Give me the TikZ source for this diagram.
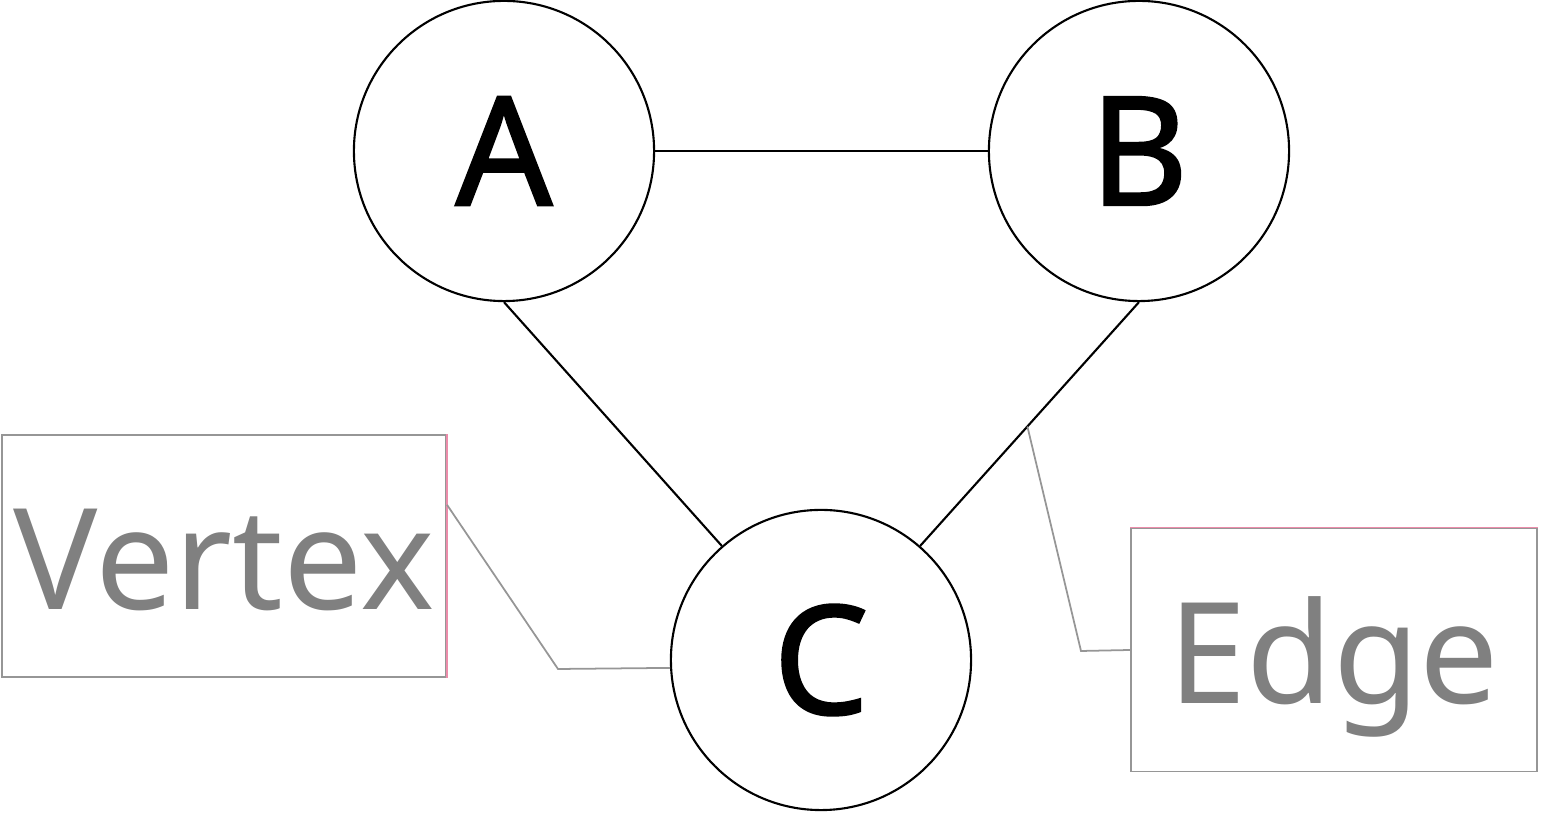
\documentclass[tikz,border=0pt]{standalone}
\usepackage{fontspec}
\setmainfont{Noto Sans}
\newfontfamily\vertexfont[FakeBold=1.6]{Noto Sans}
\usetikzlibrary{positioning,calc}
\definecolor{graphLabelGray}{RGB}{128, 128, 128}
\definecolor{graphBoxGray}{RGB}{150, 150, 150}
\definecolor{graphBoxPink}{RGB}{236, 140, 170}

\begin{document}
\begin{tikzpicture}[
  x=0.01cm, y=-0.01cm,
  vertexnode/.style={
    draw,
    circle,
    line width=0.6pt,
    minimum size=3cm,
    inner sep=0pt,
    font=\vertexfont\fontsize{43}{43}\selectfont
  },
  labelbox/.style={
    draw=graphBoxGray,
    line width=0.5pt,
    inner sep=0pt,
    text=graphLabelGray,
    text height=1.07cm,
    text depth=0pt,
    font=\fontsize{40}{40}\selectfont
  },
  graphedge/.style={line width=0.6pt},
  callout/.style={graphBoxGray,line width=0.5pt}
]
  \useasboundingbox (0,0) rectangle (1556,813);
  \node[vertexnode] (A) at (504,151) {A};
  \node[vertexnode] (B) at (1139,151) {B};
  \node[vertexnode] (C) at (821,660) {C};
  \node[labelbox,minimum width=4.44cm,minimum height=2.42cm] (vertex)
    at (224,556) {Vertex};
  \node[labelbox,minimum width=4.06cm,minimum height=2.43cm] (edge)
    at (1334,650) {Edge};
  \draw[graphedge] (A.east) -- (B.west);
  \draw[graphedge] (A.south) -- (C.131);
  \draw[graphedge] (B.south) -- coordinate[pos=0.51] (edgemid) (C.49);
  % pink fringes on the label boxes
  \draw[graphBoxPink,line width=0.4pt] (vertex.north east) -- (vertex.south east);
  \draw[graphBoxPink,line width=0.4pt] (edge.north west) -- (edge.north east);
  % callouts
  \draw[callout] ($(vertex.north east)!0.29!(vertex.south east)$) -- (558,669) -- (C.183);
  \draw[callout] (edgemid) -- (1081,651) -- (edge.west);
\end{tikzpicture}
\end{document}
